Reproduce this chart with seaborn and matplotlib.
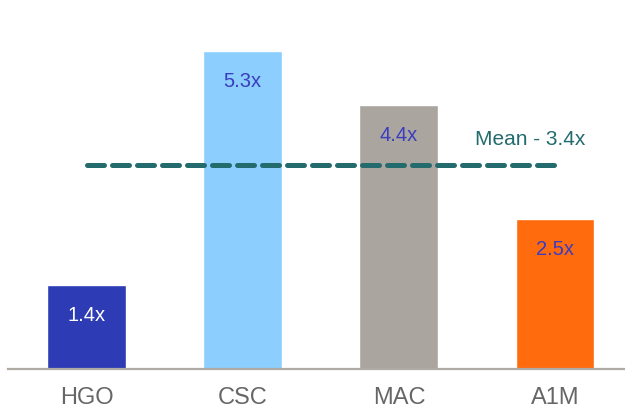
import matplotlib.pyplot as plt
import seaborn as sns
import pandas as pd

categories = ['HGO', 'CSC', 'MAC', 'A1M']
multiples = [1.4, 5.3, 4.4, 2.5]
labels = ['1.4x', '5.3x', '4.4x', '2.5x']
mean_value = 3.4
mean_label = 'Mean - 3.4x'

bar_colors = ['#2d3cb4', '#8ccfff', '#aba59f', '#ff6b0d']
label_colors = ['white', '#3a3dbf', '#3a3dbf', '#3a3dbf']
teal = '#246b6e'

sns.set_style('white')
plt.rcParams['font.family'] = ['Liberation Sans', 'DejaVu Sans']

df = pd.DataFrame({'name': categories, 'value': multiples})

fig = plt.figure(figsize=(6.25, 4.09), dpi=100)
ax = fig.add_axes([0.0128, 0.0978, 0.9872, 0.9022])

sns.barplot(data=df, x='name', y='value', hue='name', palette=bar_colors,
            width=0.505, saturation=1, legend=False, ax=ax)

for i, (v, lab) in enumerate(zip(multiples, labels)):
    ax.annotate(lab, (i, v), xytext=(0, -22), textcoords='offset points',
                ha='center', va='center', fontsize=14.5, color=label_colors[i])

# mean line across the bars
ax.plot([0, len(categories) - 1], [mean_value, mean_value], color=teal,
        lw=3.6, ls=(0, (3.4, 1.6)), dash_capstyle='round')
ax.text(2.84, mean_value + 0.42, mean_label, ha='center', va='center',
        fontsize=15, color=teal)

ax.set_xlim(-0.503, 3.448)
ax.set_ylim(0, 6.15)
ax.set_xlabel('')
ax.set_ylabel('')
ax.set_yticks([])
ax.tick_params(axis='x', length=0, pad=13, labelsize=17, labelcolor='#666666')
sns.despine(ax=ax, left=True, right=True, top=True)
ax.spines['bottom'].set_color('#b0aaa5')
ax.spines['bottom'].set_linewidth(1.6)

plt.savefig('out.png', dpi=100)
